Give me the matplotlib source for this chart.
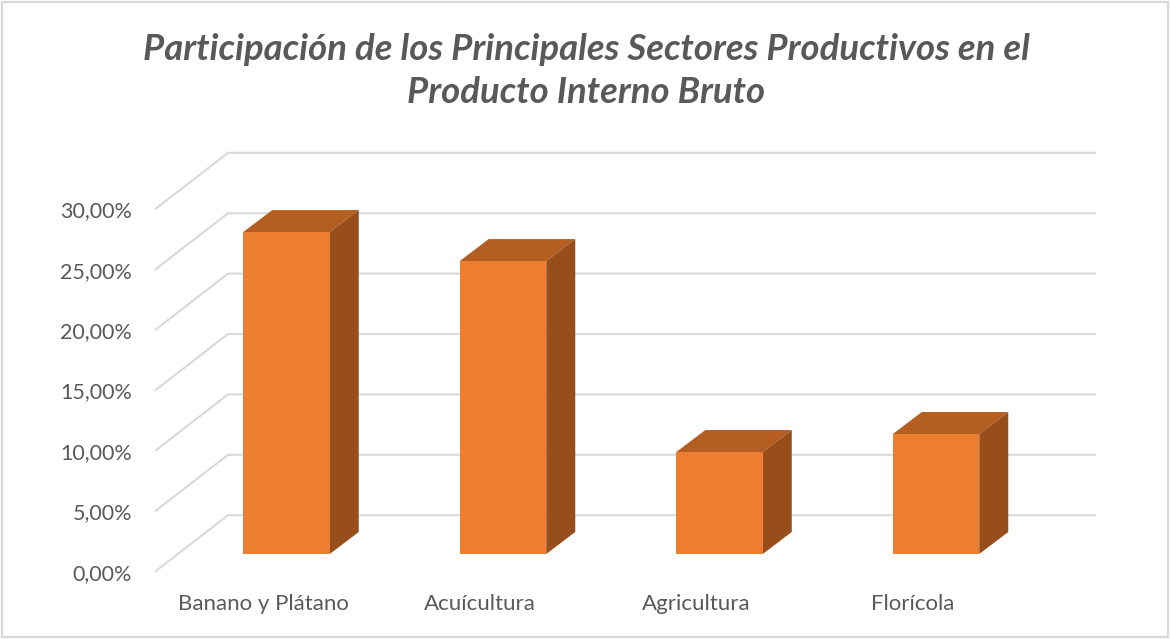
import matplotlib
matplotlib.use("Agg")
import matplotlib.pyplot as plt
from matplotlib.patches import Polygon, Rectangle

plt.rcParams['font.family'] = ['Lato', 'DejaVu Sans']

title_text = "Participación de los Principales Sectores Productivos en el\nProducto Interno Bruto"
categories = ["Banano y Plátano", "Acuícultura", "Agricultura", "Florícola"]
values = [26.65, 24.25, 8.44, 9.93]
tick_values = [0, 5, 10, 15, 20, 25, 30]
tick_labels = ["0,00%", "5,00%", "10,00%", "15,00%", "20,00%", "25,00%", "30,00%"]

W, H = 1170, 639
# pixel geometry of the oblique projection
L, R, BOT, TOP = 155, 1096, 571.7, 153
PX_PER_PCT = 12.08
PX_PER_CAT = 216.5
CAT0_PX = 263.0

fig = plt.figure(figsize=(W / 100, H / 100), dpi=100, facecolor='white')
ax = fig.add_axes([L / W, 1 - BOT / H, (R - L) / W, (BOT - TOP) / H])
ax.set_xlim((L - CAT0_PX) / PX_PER_CAT, (R - CAT0_PX) / PX_PER_CAT)
ax.set_ylim(0, (BOT - TOP) / PX_PER_PCT)
ax.patch.set_visible(False)
for s in ax.spines.values():
    s.set_visible(False)

GRID = '#D9D9D9'
TEXT = '#595959'
FRONT, TOPC, SIDE = '#ED7D31', '#B55E22', '#974E1B'

wall_dy = 56.5 / PX_PER_PCT
wall_x = (228 - CAT0_PX) / PX_PER_CAT
left_x = (L - CAT0_PX) / PX_PER_CAT
right_x = (R - CAT0_PX) / PX_PER_CAT
for v in tick_values:
    ax.plot([left_x, wall_x, right_x], [v, v + wall_dy, v + wall_dy],
            color=GRID, lw=1.5, zorder=1, solid_joinstyle='miter',
            solid_capstyle='butt', clip_on=False)

# bars
base = (BOT - 554) / PX_PER_PCT
offset = 23.5 / PX_PER_CAT
width = 86.5 / PX_PER_CAT
dx = 29.0 / PX_PER_CAT
dy = 22.0 / PX_PER_PCT
for i, v in enumerate(values):
    x0 = i + offset - width / 2
    x1 = x0 + width
    top = base + v
    ax.add_patch(Polygon([(x0, top), (x1, top), (x1 + dx, top + dy), (x0 + dx, top + dy)],
                         closed=True, fc=TOPC, ec='none', zorder=3))
    ax.add_patch(Polygon([(x1, base), (x1 + dx, base + dy), (x1 + dx, top + dy), (x1, top)],
                         closed=True, fc=SIDE, ec='none', zorder=3))
ax.bar([i + offset for i in range(len(values))], values, width=width, bottom=base,
       color=FRONT, edgecolor='none', zorder=4)

ax.set_yticks(tick_values)
ax.set_yticklabels(tick_labels, fontsize=15.5, color=TEXT)
ax.set_xticks(range(len(categories)))
ax.set_xticklabels(categories, fontsize=16, color=TEXT)
ax.tick_params(axis='y', length=0, pad=16.5)
ax.tick_params(axis='x', length=0, pad=16)

fig.text(586 / W, 1 - 71 / H, title_text, ha='center', va='center', fontsize=26.3,
         fontweight='bold', fontstyle='italic', color=TEXT, linespacing=1.37)

fig.add_artist(Rectangle((2 / W, 1 - 636.5 / H), 1166 / W, 634.5 / H, transform=fig.transFigure,
                         fc='none', ec='#D9D9D9', lw=1.6))

fig.savefig('out.png', dpi=100, facecolor='white')
